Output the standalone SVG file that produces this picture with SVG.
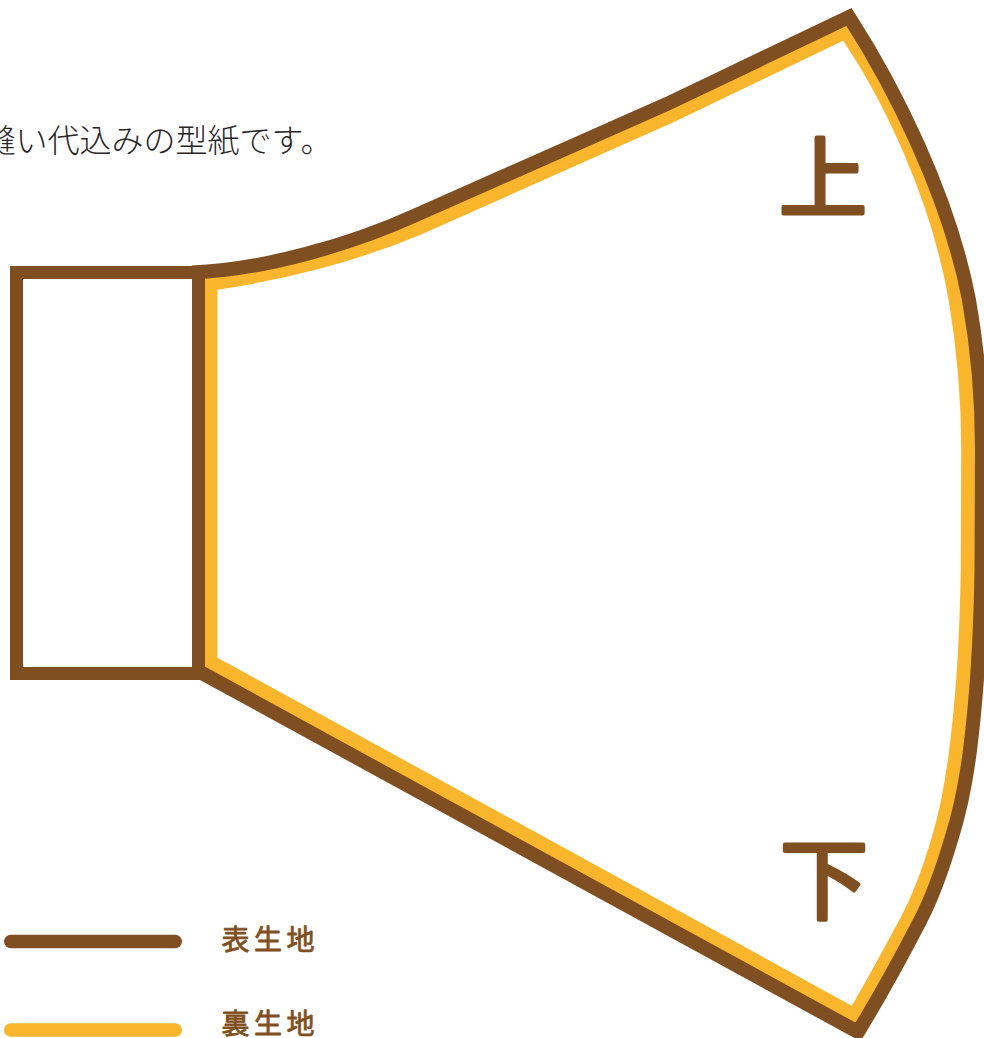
<svg xmlns="http://www.w3.org/2000/svg" width="984" height="1038" viewBox="0 0 984 1038">
<style>
.b{fill:none;stroke:#7f4f21;stroke-width:13;stroke-linejoin:miter;stroke-miterlimit:10}
.c{fill:none;stroke:#7f4f21;stroke-width:14;stroke-linejoin:miter;stroke-miterlimit:10}
.y{fill:none;stroke:#f9b52c;stroke-width:14.500;stroke-linejoin:miter;stroke-miterlimit:10}
.hand{font-family:"Noto Sans CJK JP",sans-serif;fill:#7f4f21;stroke:#7f4f21;stroke-linejoin:round;stroke-linecap:round}
.cap{font-family:"Noto Sans CJK JP",sans-serif;font-weight:300;font-size:32px;fill:#2a2627}
</style>
<rect width="984" height="1038" fill="#fff"/>
<text class="cap" x="-16.400" y="152">縫い代込みの型紙です。</text>
<g id="lining">
<path class="y" d="M210.200,283.500 C285,272.500 360,252.500 420,227 L672,115 L845.500,31.500 C888,93 938,195 956,300 C963.500,345 968.500,400 968.500,450 C968.500,490 968.500,530 968,570 C967,635 963.500,695 956.500,750 C952.500,782 947,812 938.500,840 C930.500,867 920.500,895 907.500,920 C892.500,948 874.500,982 854.500,1015.500 L210.200,662 Z"/>
</g>
<g id="outer">
<path class="c" d="M192,272.500 C262,270 350,245 415,215.500 L667,104 L849,17 C893,85 949,195 969,300 C977,345 982,400 982,450 C982,490 982,530 981.500,570 C980.500,635 977,695 970,750 C966,782 960,812 951,840 C943,867 933,896 920,921 C905,950 880,996 858,1032 L201,672.500"/>
<path class="b" d="M198.500,272.500 H16.500 V673.500 H198.500 Z"/>
</g>
<g id="label-top"><text class="hand" x="779" y="210" font-size="88" stroke-width="4">上</text></g>
<g id="label-bottom"><text class="hand" x="780" y="912" font-size="88" stroke-width="4">下</text></g>
<g id="legend">
<line x1="10.750" y1="941.500" x2="175.250" y2="941.500" stroke="#7f4f21" stroke-width="13.500" stroke-linecap="round"/>
<line x1="10.750" y1="1030" x2="175.250" y2="1030" stroke="#f9b52c" stroke-width="13.500" stroke-linecap="round"/>
<text class="hand" x="221.500" y="950" font-size="28" stroke-width="0.800" letter-spacing="4.500">表生地</text>
<text class="hand" x="221.500" y="1033.500" font-size="28" stroke-width="0.800" letter-spacing="4.500">裏生地</text>
</g>
</svg>
